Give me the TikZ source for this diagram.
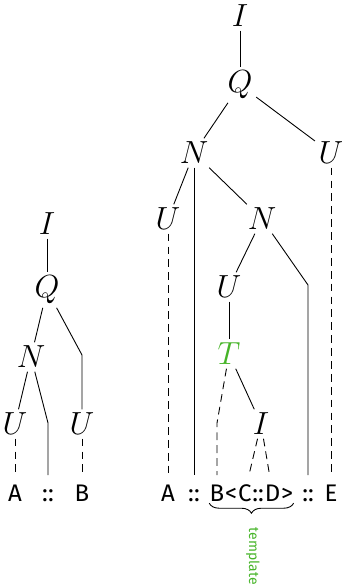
\documentclass[tikz,border=0pt]{standalone}
\usepackage{fontspec}
\setsansfont{Fira Sans}
\usetikzlibrary{positioning,decorations.pathreplacing}
\definecolor{tgreen}{RGB}{70,180,40}
\tikzset{
	cat/.style={font=\Large, inner sep=1.5pt},
	tok/.style={font=\sffamily\fontsize{10.8}{12}\selectfont, text height=7.4pt, text depth=0pt, inner xsep=0pt, inner ysep=4pt, anchor=base},
	elide/.style={dash pattern=on 3.5pt off 2.3pt},
}
\begin{document}
\begin{tikzpicture}[x=0.45pt,y=-0.45pt,line width=0.4pt]
	\useasboundingbox (0,0) rectangle (341,585);
	% A::B
	\node[cat] (i1) at (47,224) {$I$};
	\node[cat] (q1) at (47,290) {$Q$};
	\node[cat] (n1) at (31,357) {$N$};
	\node[cat] (ua1) at (15,424) {$U$};
	\node[cat] (ub1) at (82,424) {$U$};
	\node[tok] (a1) at (15,501) {A};
	\node[tok] (dc1) at (48,501) {::};
	\node[tok] (b1) at (82,501) {B};
	\coordinate (k1) at (82,355);
	\coordinate (k2) at (48,423);
	\draw (i1)--(q1);
	\draw (q1)--(n1);
	\draw (q1)--(k1)--(ub1);
	\draw (n1)--(ua1);
	\draw (n1)--(k2)--(dc1);
	\draw[elide] (ua1)--(a1);
	\draw[elide] (ub1)--(b1);
	\begin{scope}
	% A::B<C::D>::E
	\node[cat] (i2) at (240,16) {$I$};
	\node[cat] (q2) at (240,85) {$Q$};
	\node[cat] (n2) at (194,153) {$N$};
	\node[cat] (ue2) at (331,153) {$U$};
	\node[cat] (ua2) at (168,219) {$U$};
	\node[cat] (nb2) at (262,219) {$N$};
	\node[cat] (ub2) at (229,287) {$U$};
	\node[cat,text=tgreen] (t2) at (229,354) {$T$};
	\node[cat] (ic2) at (261,424) {$I$};
	\node[tok] (a2) at (168,501) {A};
	\node[tok] (dc2) at (194,501) {::};
	\node[tok] (b2) at (217,501) {B};
	\node[tok,right=0pt of b2] (lt2) {<};
	\node[tok,right=0pt of lt2] (c2) {C};
	\node[tok,right=0pt of c2] (cc2) {::};
	\node[tok,right=0pt of cc2] (d2) {D};
	\node[tok,right=0pt of d2] (gt2) {>};
	\node[tok] (dd2) at (308,501) {::};
	\node[tok] (e2) at (331,501) {E};
	\coordinate (k3) at (308,285);
	\coordinate (k4) at (217,423);
	\draw (i2)--(q2);
	\draw (q2)--(n2);
	\draw (q2)--(ue2);
	\draw (n2)--(ua2);
	\draw (n2)--(dc2);
	\draw (n2)--(nb2);
	\draw (nb2)--(ub2);
	\draw (nb2)--(k3)--(dd2);
	\draw (ub2)--(t2);
	\draw (t2)--(ic2);
	\draw[elide] (ue2)--(e2);
	\draw[elide] (ua2)--(a2);
	\draw[elide] (t2)--(k4)--(b2);
	\draw[elide] (ic2)--(c2);
	\draw[elide] (ic2)--(d2);
	\draw[decorate,decoration={brace,mirror,amplitude=4.5pt}] ([yshift=-1pt]b2.base west)--([yshift=-1pt]gt2.base east);
	\node[font=\sffamily\fontsize{6.3}{7}\selectfont,text=tgreen,rotate=-90,anchor=west] (tpl) at (253,520) {template};
	\end{scope}
\end{tikzpicture}
\end{document}
